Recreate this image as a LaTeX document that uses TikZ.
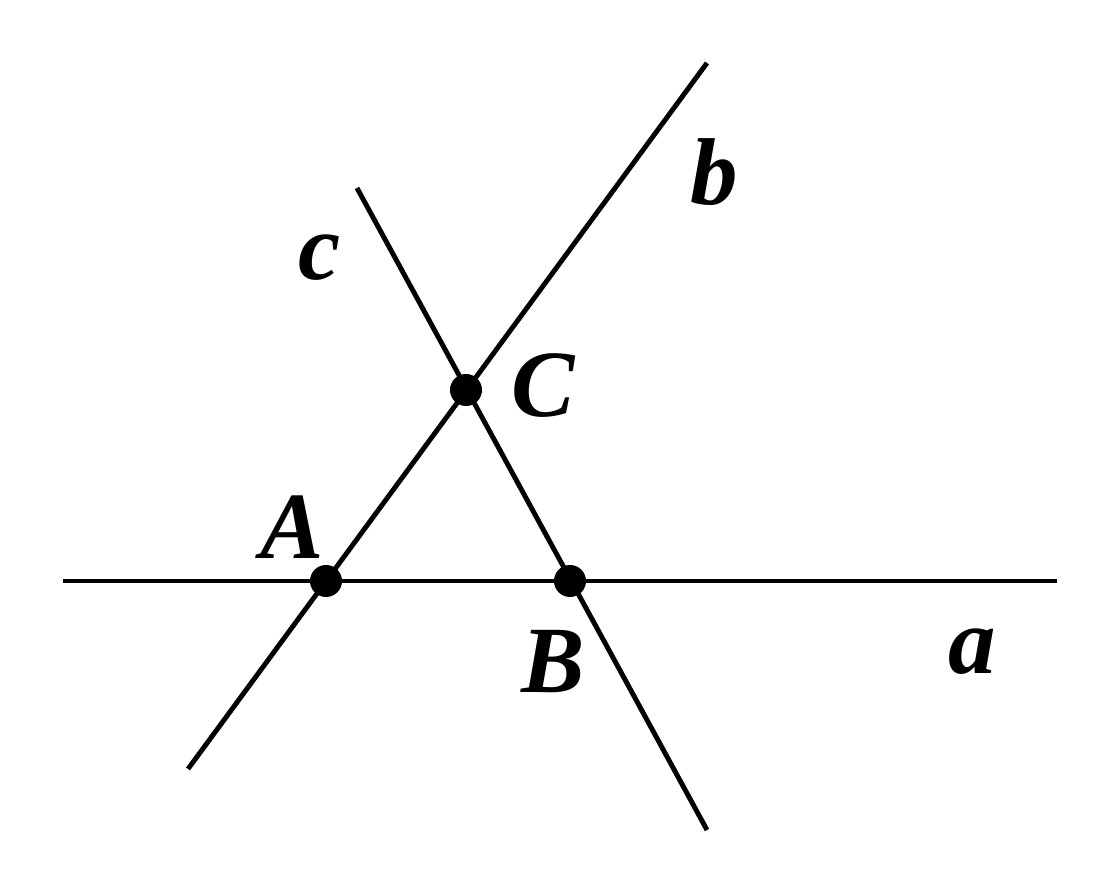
\documentclass[tikz,border=0pt]{standalone}
\usepackage{fontspec}
\setmainfont{Liberation Serif}
\usetikzlibrary{calc}

\begin{document}
\begin{tikzpicture}[x=0.01cm,y=-0.01cm,line width=1.4pt,
    pt/.style={circle,fill=black,inner sep=0pt,minimum size=0.32cm},
    lbl/.style={font=\fontsize{27}{30}\selectfont\bfseries\itshape}]

  \useasboundingbox (0,0) rectangle (1120,895);

  % points
  \node[pt] (A) at (326,581) {};
  \node[pt] (B) at (570,581) {};
  \node[pt] (C) at (466,390) {};

  % line ends
  \coordinate (a1) at (63,581);
  \coordinate (a2) at (1057,581);
  \coordinate (b1) at (188,769);
  \coordinate (b2) at (707,63);
  \coordinate (c1) at (357,188);
  \coordinate (c2) at (707,830);

  \draw (a1) -- (a2);
  \draw (b1) -- (b2);
  \draw (c1) -- (c2);

  % labels
  \node[lbl] (la) at (972,652) {a};
  \node[lbl] (lb) at (714,172) {b};
  \node[lbl] (lc) at (320,258) {c};
  \node[lbl] (lA) at (292,527) {A};
  \node[lbl] (lB) at (553,662) {B};
  \node[lbl] (lC) at (543,386) {C};

\end{tikzpicture}
\end{document}
